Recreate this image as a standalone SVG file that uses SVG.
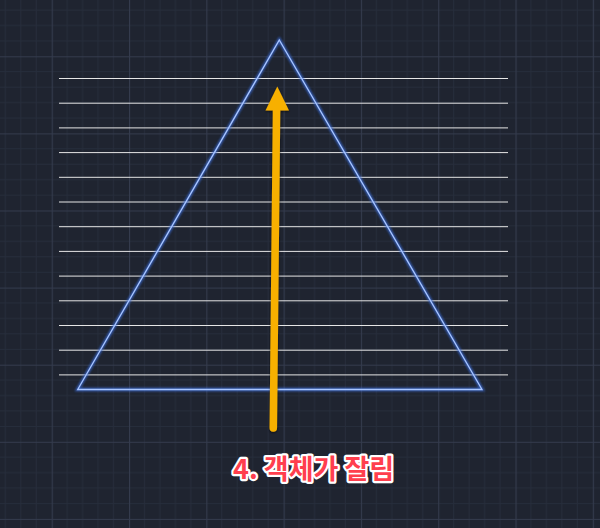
<svg xmlns="http://www.w3.org/2000/svg" width="600" height="528" viewBox="0 0 600 528">
  <defs>
    <pattern id="grid" patternUnits="userSpaceOnUse" x="51.7" y="56.3" width="77.3" height="77.1">
      <g stroke="#262d3b" stroke-width="1" fill="none">
        <path d="M15.46 0V77.1M30.92 0V77.1M46.38 0V77.1M61.84 0V77.1"/>
        <path d="M0 15.42H77.3M0 30.84H77.3M0 46.26H77.3M0 61.68H77.3"/>
      </g>
      <path d="M0.5 0V77.1M0 0.5H77.3" stroke="#343b4d" stroke-width="1.2" fill="none"/>
    </pattern>
    <filter id="glow" x="-10%" y="-10%" width="120%" height="120%">
      <feGaussianBlur stdDeviation="1"/>
    </filter>
    <filter id="shadow" x="-20%" y="-5%" width="140%" height="110%">
      <feDropShadow dx="0" dy="1" stdDeviation="1.2" flood-color="#000" flood-opacity="0.6"/>
    </filter>
    <style>
      .hl { stroke: #e6e6e6; stroke-width: 1; fill: none; }
      .lbl { font-family: "Noto Sans CJK KR", "Noto Sans", sans-serif; font-weight: bold; font-size: 27px; fill: #ff3f4e; stroke: #ffffff; stroke-width: 4.5px; stroke-linejoin: round; paint-order: stroke; }
    </style>
  </defs>
  <rect width="600" height="528" fill="#1f2430"/>
  <rect width="600" height="528" fill="url(#grid)"/>

  <g id="hatch-lines">
    <path class="hl" d="M59 78.5H508M59 103.2H508M59 127.9H508M59 152.6H508M59 177.3H508M59 202H508M59 226.7H508M59 251.4H508M59 276.1H508M59 300.8H508M59 325.5H508M59 350.2H508M59 374.9H508"/>
  </g>

  <g id="triangle">
    <polygon points="279.3,40 482,389.5 77.7,389.5" fill="none" stroke="#3b6ee0" stroke-width="3.5" stroke-linejoin="miter" opacity="0.75" filter="url(#glow)"/>
    <polygon points="279.3,40 482,389.5 77.7,389.5" fill="none" stroke="#a9c6ff" stroke-width="1.3"/>
  </g>

  <g id="connectors">
    <g id="arrow" filter="url(#shadow)">
      <line x1="273.3" y1="428" x2="276.6" y2="106" stroke="#f7b000" stroke-width="7.5" stroke-linecap="round"/>
      <polygon points="277.3,86.5 289,110.5 265.5,110.5" fill="#f7b000"/>
    </g>
  </g>

  <g id="label">
    <text class="lbl" x="233" y="479">4. 객체가 잘림</text>
  </g>
</svg>
